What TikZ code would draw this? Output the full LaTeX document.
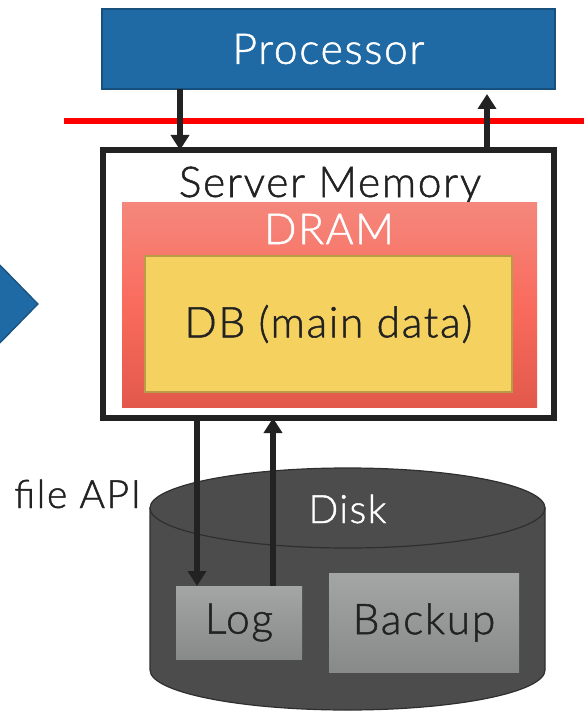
\documentclass[tikz,border=0pt]{standalone}
\usepackage{fontspec}
\setmainfont{Lato Light}[UprightFeatures={FakeBold=1.2}, LetterSpace=4]
\usetikzlibrary{arrows.meta}
\definecolor{procblue}{HTML}{1F6AA5}
\definecolor{procedge}{HTML}{174F7D}
\definecolor{ink}{HTML}{222222}
\definecolor{dramtop}{HTML}{F5877C}
\definecolor{drammid}{HTML}{F96B5D}
\definecolor{drambot}{HTML}{E2594B}
\definecolor{dbfill}{HTML}{F5D160}
\definecolor{dbedge}{HTML}{B89C48}
\definecolor{diskfill}{HTML}{4B4C4B}
\definecolor{diskedge}{HTML}{2E2F2E}
\definecolor{boxtop}{HTML}{A4A6A5}
\definecolor{boxbot}{HTML}{888A89}
\tikzset{
  box/.style={anchor=north west, inner sep=0pt, outer sep=0pt},
  bigtext/.style={font=\fontsize{42.5}{48}\selectfont},
  flow/.style={draw=ink, line width=5.5pt, -{Triangle[width=18pt,length=15pt]}},
  storebox/.style={box, top color=boxtop, bottom color=boxbot, draw=none, text=ink, bigtext},
}
\begin{document}
\begin{tikzpicture}[x=1pt,y=-1pt]
\useasboundingbox (0,0) rectangle (584,711);

% chevron entering from the left edge
\node[coordinate] (chev) at (38,304) {};
\filldraw[fill=procblue, draw=procedge, line width=1.2pt]
  (-5,260) -- (chev) -- (-5,348) -- cycle;

% processor
\node[box, fill=procblue, draw=procedge, line width=1.5pt,
      minimum width=453pt, minimum height=80pt, text=white, bigtext]
  (proc) at (102,9) {Processor};

% boundary line
\node[coordinate] (redL) at (64,121) {};
\node[coordinate] (redR) at (584,121) {};
\draw[red, line width=5.5pt] (redL) -- (redR);

% server memory
\node[box, draw=ink, line width=5.5pt, fill=white,
      minimum width=451pt, minimum height=268pt] (mem) at (103,150) {};
\node[anchor=base, text=ink, bigtext] (memlbl) at (330,197) {Server Memory};

% DRAM
\node[box, top color=dramtop, bottom color=drambot, middle color=drammid,
      minimum width=415pt, minimum height=204pt] (dram) at (122,203) {};
\node[anchor=base, text=white, bigtext] (dramlbl) at (329,244) {DRAM};

% main data
\node[box, fill=dbfill, draw=dbedge, line width=2pt,
      minimum width=367pt, minimum height=136pt, text=ink, bigtext]
  (db) at (145,256) {DB (main data)};

% disk cylinder
\filldraw[fill=diskfill, draw=diskedge, line width=1.2pt]
  (150,508) -- (150,670) arc[start angle=180, end angle=0, x radius=197.5, y radius=40]
  -- (545,508) -- cycle;
\filldraw[fill=diskfill, draw=diskedge, line width=1.2pt]
  (347.5,508) ellipse [x radius=197.5, y radius=40];
\node[anchor=base, text=white, font=\fontsize{39}{44}\selectfont] (disk) at (347.5,523) {Disk};

% stores on disk
\node[storebox, minimum width=126pt, minimum height=73pt] (log) at (176,586) {Log};
\node[storebox, minimum width=190pt, minimum height=99pt] (backup) at (329,573) {Backup};

% label
\node[anchor=base west, inner sep=0pt, text=ink, font=\fontsize{39}{44}\selectfont]
  (api) at (14,508) {file API};

% data flows
\node[coordinate] (xa) at (180,0) {};
\node[coordinate] (xb) at (487,0) {};
\node[coordinate] (xc) at (197,0) {};
\node[coordinate] (xd) at (273,0) {};
\draw[flow] (proc.south -| xa) -- (mem.north -| xa);
\draw[flow] (mem.north -| xb) -- ([yshift=-5pt]proc.south -| xb);
\draw[flow] (mem.south -| xc) -- (log.north -| xc);
\draw[flow] (log.north -| xd) -- (mem.south -| xd);
\end{tikzpicture}
\end{document}
